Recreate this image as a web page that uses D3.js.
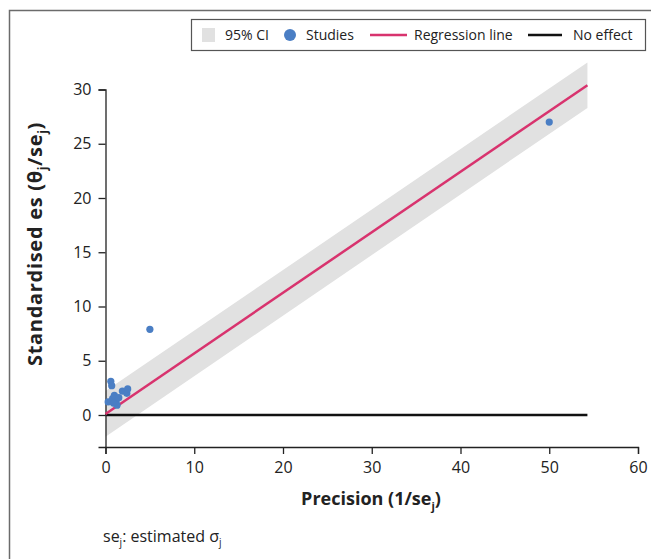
<!DOCTYPE html>
<html lang="en">
<head>
<meta charset="utf-8">
<title>Galbraith plot</title>
<script src="https://d3js.org/d3.v7.min.js"></script>
<style>
body { margin: 0; background: white; }
text { font-family: "Open Sans", "Liberation Sans", sans-serif; fill: #222; }
</style>
</head>
<body>
<div id="chart"></div>
<script>
// study points: precision (1/se) and standardised effect (theta/se)
var precision = [0.3, 0.6, 0.7, 0.8, 1.0, 1.2, 1.3, 1.5, 0.9, 1.9, 2.4, 2.5, 5.0, 50.0];
var stdEffect = [1.2, 3.1, 2.7, 1.5, 1.8, 1.2, 0.9, 1.6, 1.1, 2.2, 2.0, 2.4, 7.9, 27.0];

// regression through the points and its 95% band
var regIntercept = 0.1;
var regSlope = 0.558;
var ciHalf = 2.1;
var lineRange = [0, 54.3];

var xTicks = [0, 10, 20, 30, 40, 50, 60];
var yTicks = [0, 5, 10, 15, 20, 25, 30];
var legendItems = ["95% CI", "Studies", "Regression line", "No effect"];

var W = 651, H = 559;
var svg = d3.select("#chart").append("svg")
    .attr("width", W).attr("height", H);

// outer frame (top and left edges visible)
svg.append("path")
    .attr("d", "M9.5,559 V10.5 H651")
    .attr("fill", "none").attr("stroke", "#6b6b6b").attr("stroke-width", 1.5);

var x = d3.scaleLinear().domain([0, 60]).range([105.5, 638]);
var y = d3.scaleLinear().domain([-2.95, 30]).range([447, 89.5]);

// CI band
var band = d3.area()
    .x(function(d) { return x(d); })
    .y0(function(d) { return y(regIntercept + regSlope * d - ciHalf); })
    .y1(function(d) { return y(regIntercept + regSlope * d + ciHalf); });
svg.append("path").datum(lineRange)
    .attr("d", band).attr("fill", "#e1e1e1");

// no effect line
svg.append("line")
    .attr("x1", x(lineRange[0])).attr("x2", x(lineRange[1]))
    .attr("y1", y(0)).attr("y2", y(0))
    .attr("stroke", "#111").attr("stroke-width", 2.5);

// axes
var xAxis = svg.append("g")
    .attr("transform", "translate(0," + y(-2.95) + ")")
    .call(d3.axisBottom(x).tickValues(xTicks).tickSize(7).tickPadding(8));
var yAxis = svg.append("g")
    .attr("transform", "translate(" + x(0) + ",0)")
    .call(d3.axisLeft(y).tickValues(yTicks).tickSize(7).tickPadding(7));
[xAxis, yAxis].forEach(function(a) {
  a.select(".domain").attr("stroke", "#222").attr("stroke-width", 1.3);
  a.selectAll(".tick line").attr("stroke", "#222").attr("stroke-width", 1.3);
  a.selectAll(".tick text").style("font-size", "16px").attr("fill", "#222");
});

// regression line
var reg = d3.line()
    .x(function(d) { return x(d); })
    .y(function(d) { return y(regIntercept + regSlope * d); });
svg.append("path").datum(lineRange)
    .attr("d", reg).attr("fill", "none")
    .attr("stroke", "#d8336e").attr("stroke-width", 2.5);

// studies
svg.selectAll("circle.study")
    .data(precision.map(function(p, i) { return [p, stdEffect[i]]; }))
    .enter().append("circle")
    .attr("class", "study")
    .attr("cx", function(d) { return x(d[0]); })
    .attr("cy", function(d) { return y(d[1]); })
    .attr("r", 3.6)
    .attr("fill", "#4a7ec4");

// axis titles
var xt = svg.append("text")
    .attr("x", 371).attr("y", 505)
    .attr("text-anchor", "middle")
    .style("font-size", "18px").style("font-weight", "bold");
xt.append("tspan").text("Precision (1/se");
xt.append("tspan").text("j").attr("dy", 5).style("font-size", "11px");
xt.append("tspan").text(")").attr("dy", -5);

var yt = svg.append("text")
    .attr("transform", "translate(42,244) rotate(-90)")
    .attr("text-anchor", "middle")
    .style("font-size", "20px").style("font-weight", "bold")
    .style("letter-spacing", "0.7px");
yt.append("tspan").text("Standardised es (\u03b8");
yt.append("tspan").text("j").attr("dy", 5).style("font-size", "12px");
yt.append("tspan").text("/se").attr("dy", -5);
yt.append("tspan").text("j").attr("dy", 5).style("font-size", "12px");
yt.append("tspan").text(")").attr("dy", -5);

// footnote
var fn = svg.append("text").attr("x", 103).attr("y", 542).style("font-size", "16px");
fn.append("tspan").text("se");
fn.append("tspan").text("j").attr("dy", 4).style("font-size", "10px");
fn.append("tspan").text(": estimated \u03c3").attr("dy", -4);
fn.append("tspan").text("j").attr("dy", 4).style("font-size", "10px");

// legend
var lg = svg.append("g");
lg.append("rect")
    .attr("x", 191.5).attr("y", 19.5).attr("width", 454).attr("height", 31)
    .attr("fill", "white").attr("stroke", "#555").attr("stroke-width", 1.2);
var ly = 35;
lg.append("rect").attr("x", 202).attr("y", ly - 7).attr("width", 13).attr("height", 14).attr("fill", "#e1e1e1");
lg.append("circle").attr("cx", 290).attr("cy", ly).attr("r", 6).attr("fill", "#4a7ec4");
lg.append("line").attr("x1", 370).attr("x2", 407).attr("y1", ly).attr("y2", ly)
    .attr("stroke", "#d8336e").attr("stroke-width", 2.5);
lg.append("line").attr("x1", 528).attr("x2", 562).attr("y1", ly).attr("y2", ly)
    .attr("stroke", "#111").attr("stroke-width", 2.5);
var lx = [225, 306, 414, 573];
lg.selectAll("text.leg").data(legendItems).enter().append("text")
    .attr("x", function(d, i) { return lx[i]; })
    .attr("y", ly + 5)
    .style("font-size", "14px")
    .text(function(d) { return d; });
</script>
</body>
</html>
